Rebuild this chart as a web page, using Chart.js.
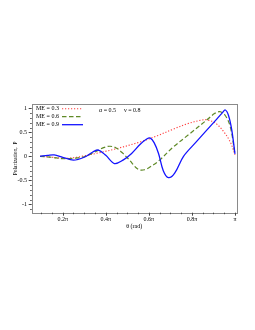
<!DOCTYPE html>
<html>
<head>
<meta charset="utf-8">
<script src="https://cdn.jsdelivr.net/npm/chart.js@4.4.0/dist/chart.umd.min.js"></script>
<style>
html,body{margin:0;padding:0;background:#fff;}
#wrap{width:255px;height:330px;}
</style>
</head>
<body>
<div id="wrap"><canvas id="mycanvas" width="255" height="330"></canvas></div>
<script>
// theta in units of pi, polarization P
var thetaRed = [0.095, 0.15, 0.2, 0.25, 0.3, 0.37, 0.45, 0.56, 0.64, 0.71, 0.78, 0.84, 0.87, 0.91, 0.95, 0.98, 1.0];
var polRed   = [0, -0.02, -0.04, -0.03, 0.01, 0.075, 0.16, 0.30, 0.43, 0.56, 0.68, 0.75, 0.76, 0.69, 0.5, 0.28, 0.03];

var thetaGreen = [0.095, 0.15, 0.2, 0.25, 0.3, 0.35, 0.39, 0.42, 0.45, 0.48, 0.51, 0.55, 0.58, 0.62, 0.65, 0.71, 0.79, 0.87, 0.905, 0.93, 0.955, 0.978, 1.0];
var polGreen   = [0, -0.02, -0.05, -0.04, -0.01, 0.09, 0.18, 0.21, 0.17, 0.06, -0.08, -0.27, -0.28, -0.18, -0.08, 0.18, 0.47, 0.76, 0.89, 0.93, 0.85, 0.62, 0.05];

var thetaBlue = [0.095, 0.13, 0.16, 0.2, 0.25, 0.3, 0.34, 0.366, 0.4, 0.44, 0.48, 0.52, 0.56, 0.59, 0.607, 0.625, 0.645, 0.667, 0.691, 0.72, 0.761, 0.82, 0.87, 0.91, 0.94, 0.955, 0.97, 0.985, 1.0];
var polBlue   = [0, 0.02, 0.03, -0.02, -0.08, -0.02, 0.09, 0.13, 0.02, -0.15, -0.08, 0.06, 0.25, 0.36, 0.38, 0.28, 0.06, -0.3, -0.445, -0.35, 0.0, 0.3, 0.55, 0.75, 0.9, 0.965, 0.85, 0.55, 0.05];

var seriesLabels = ['ME = 0.3', 'ME = 0.6', 'ME = 0.9'];

var xTicks = [0.2, 0.4, 0.6, 0.8, 1.0];
var xTickLabels = ['0.2\u03c0', '0.4\u03c0', '0.6\u03c0', '0.8\u03c0', '\u03c0'];
var xMinor = [0.1, 0.15, 0.25, 0.3, 0.35, 0.45, 0.5, 0.55, 0.65, 0.7, 0.75, 0.85, 0.9, 0.95];
var yTicks = [-1, -0.5, 0, 0.5, 1];
var yTickLabels = ['-1', '-0.5', '0', '0.5', '1'];
var yMinor = [-1.1, -0.9, -0.8, -0.7, -0.6, -0.4, -0.3, -0.2, -0.1, 0.1, 0.2, 0.3, 0.4, 0.6, 0.7, 0.8, 0.9];

function pts(xs, ys) {
    var out = [];
    for (var i in xs) {
        out.push({x: xs[i], y: ys[i]});
    }
    return out;
}

var serif = 'Liberation Serif';

// frame, tick marks, legend and parameter text
var decor = {
    id: 'decor',
    afterDraw: function (chart) {
        var ctx = chart.ctx;
        var a = chart.chartArea;
        var xs = chart.scales.x, ys = chart.scales.y;
        ctx.save();
        ctx.strokeStyle = '#8a8a8a';
        ctx.lineWidth = 1;
        ctx.strokeRect(Math.round(a.left) + 0.5, Math.round(a.top) + 0.5,
            Math.round(a.right - a.left), Math.round(a.bottom - a.top));

        ctx.strokeStyle = '#444';
        ctx.beginPath();
        xTicks.forEach(function (v) {
            var p = Math.round(xs.getPixelForValue(v)) + 0.5;
            ctx.moveTo(p, a.bottom); ctx.lineTo(p, a.bottom + 3);
        });
        xMinor.forEach(function (v) {
            var p = Math.round(xs.getPixelForValue(v)) + 0.5;
            ctx.moveTo(p, a.bottom); ctx.lineTo(p, a.bottom + 1.5);
        });
        yTicks.forEach(function (v) {
            var p = Math.round(ys.getPixelForValue(v)) + 0.5;
            ctx.moveTo(a.left, p); ctx.lineTo(a.left - 3, p);
        });
        yMinor.forEach(function (v) {
            var p = Math.round(ys.getPixelForValue(v)) + 0.5;
            ctx.moveTo(a.left, p); ctx.lineTo(a.left - 1.5, p);
        });
        ctx.stroke();

        // legend
        ctx.font = '6px "' + serif + '"';
        ctx.textBaseline = 'middle';
        ctx.fillStyle = '#000';
        var rows = [108.7, 116.7, 124.7];
        var sets = chart.data.datasets;
        for (var i = 0; i < 3; i++) {
            var ds = sets[i];
            ctx.fillText(seriesLabels[i], 36, rows[i]);
            ctx.strokeStyle = ds.borderColor;
            ctx.lineWidth = ds.borderWidth;
            ctx.setLineDash(ds.borderDash || []);
            ctx.beginPath();
            ctx.moveTo(62, rows[i]);
            ctx.lineTo(83, rows[i]);
            ctx.stroke();
        }
        ctx.setLineDash([]);
        ctx.fillText('\u03b1 = 0.5', 99, 110);
        ctx.fillText('\u03bd = 0.8', 124, 110);
        ctx.restore();
    }
};

var ctx = document.getElementById('mycanvas');
var chart = new Chart(ctx, {
    type: 'line',
    data: {
        datasets: [
            {
                label: seriesLabels[0],
                data: pts(thetaRed, polRed),
                borderColor: '#ff3c3c',
                borderWidth: 1.1,
                borderDash: [1.2, 1.8],
                order: 2
            },
            {
                label: seriesLabels[1],
                data: pts(thetaGreen, polGreen),
                borderColor: '#5f8a27',
                borderWidth: 1.2,
                borderDash: [4.5, 2.5],
                order: 1
            },
            {
                label: seriesLabels[2],
                data: pts(thetaBlue, polBlue),
                borderColor: '#1414ff',
                borderWidth: 1.3,
                order: 0
            }
        ]
    },
    options: {
        responsive: false,
        animation: false,
        elements: {
            point: {radius: 0},
            line: {tension: 0.35, fill: false}
        },
        layout: {padding: {left: 0, top: 104, right: 18.3, bottom: 87.3}},
        plugins: {legend: {display: false}, tooltip: {enabled: false}},
        scales: {
            x: {
                type: 'linear',
                min: 0.056,
                max: 1.008,
                afterFit: function (s) { s.height = 30; },
                afterBuildTicks: function (s) {
                    s.ticks = xTicks.map(function (v) { return {value: v}; });
                },
                grid: {display: false, drawTicks: false},
                border: {display: false},
                ticks: {
                    padding: 3,
                    color: '#000',
                    font: {family: serif, size: 6},
                    maxRotation: 0,
                    autoSkip: false,
                    callback: function (v) { return xTickLabels[xTicks.indexOf(v)]; }
                },
                title: {
                    display: true,
                    text: '\u03b8 (rad)',
                    color: '#000',
                    font: {family: serif, size: 6},
                    padding: {top: 0, bottom: 12.6}
                }
            },
            y: {
                type: 'linear',
                min: -1.175,
                max: 1.09,
                afterFit: function (s) { s.width = 31.7; },
                afterBuildTicks: function (s) {
                    s.ticks = yTicks.map(function (v) { return {value: v}; });
                },
                grid: {display: false, drawTicks: false},
                border: {display: false},
                ticks: {
                    padding: 4.7,
                    color: '#000',
                    font: {family: serif, size: 6},
                    autoSkip: false,
                    callback: function (v) { return yTickLabels[yTicks.indexOf(v)]; }
                },
                title: {
                    display: true,
                    text: 'Polarization,  P',
                    color: '#000',
                    font: {family: serif, size: 5.5},
                    padding: {top: 12, bottom: 0}
                }
            }
        }
    },
    plugins: [decor]
});
</script>
</body>
</html>
